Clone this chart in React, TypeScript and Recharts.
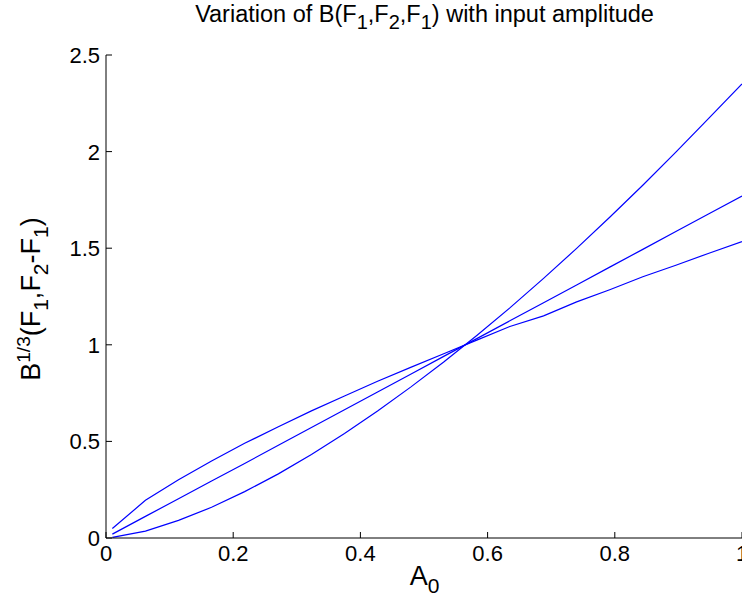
import React from "react";
import { LineChart, Line, XAxis, YAxis, Label } from "recharts";

const A0 = [0.01, 0.062, 0.114, 0.166, 0.218, 0.271, 0.323, 0.375, 0.427, 0.479, 0.531, 0.583, 0.635, 0.688, 0.74, 0.792, 0.844, 0.896, 0.948, 1.0];
const seriesConcave = [0.049, 0.195, 0.301, 0.399, 0.49, 0.576, 0.658, 0.735, 0.811, 0.883, 0.954, 1.024, 1.095, 1.15, 1.222, 1.285, 1.352, 1.412, 1.474, 1.534];
const seriesLinear = [0.02, 0.112, 0.203, 0.295, 0.386, 0.48, 0.572, 0.664, 0.756, 0.848, 0.94, 1.032, 1.124, 1.218, 1.31, 1.402, 1.494, 1.586, 1.678, 1.77];
const seriesConvex = [0.003, 0.036, 0.091, 0.159, 0.24, 0.332, 0.432, 0.541, 0.657, 0.781, 0.911, 1.048, 1.191, 1.344, 1.499, 1.66, 1.826, 1.997, 2.173, 2.35];
const xTicks = [0, 0.2, 0.4, 0.6, 0.8, 1];
const xTickLabels = ["0", "0.2", "0.4", "0.6", "0.8", "1"];
const yTicks = [0, 0.5, 1, 1.5, 2, 2.5];
const yTickLabels = ["0", "0.5", "1", "1.5", "2", "2.5"];

const data = A0.map((a, i) => ({ a, c: seriesConcave[i], l: seriesLinear[i], v: seriesConvex[i] }));

const FONT = "'Liberation Sans', Arial, sans-serif";
const FS = 22;
const TICK = 6;

const BottomTick = (props: any) => {
  const { x, y, payload } = props;
  const idx = xTicks.indexOf(payload.value);
  return (
    <g>
      <line x1={x} y1={y} x2={x} y2={y - TICK} stroke="#000" strokeWidth={1} />
      <text x={x} y={y + 23} textAnchor="middle" fontFamily={FONT} fontSize={FS} fill="#000">
        {idx >= 0 ? xTickLabels[idx] : String(payload.value)}
      </text>
    </g>
  );
};

const TopTick = (props: any) => {
  const { x, y } = props;
  return <line x1={x} y1={y} x2={x} y2={y + TICK} stroke="#000" strokeWidth={1} />;
};

const LeftTick = (props: any) => {
  const { x, y, payload } = props;
  const idx = yTicks.indexOf(payload.value);
  return (
    <g>
      <line x1={x} y1={y} x2={x + TICK} y2={y} stroke="#000" strokeWidth={1} />
      <text x={x - 6} y={y + 8} textAnchor="end" fontFamily={FONT} fontSize={FS} fill="#000">
        {idx >= 0 ? yTickLabels[idx] : String(payload.value)}
      </text>
    </g>
  );
};

const RightTick = (props: any) => {
  const { x, y } = props;
  return <line x1={x} y1={y} x2={x - TICK} y2={y} stroke="#000" strokeWidth={1} />;
};

const LFS = 27;
const LSUB = 21;

const YLabel = () => (
  <text
    x={0}
    y={0}
    transform="translate(40 299) rotate(-90)"
    textAnchor="middle"
    fontFamily={FONT}
    fontSize={LFS}
    fill="#000"
  >
    <tspan>B</tspan>
    <tspan dy={-10} fontSize={19}>1/3</tspan>
    <tspan dy={10}>(F</tspan>
    <tspan dy={8} fontSize={LSUB}>1</tspan>
    <tspan dy={-8}>,F</tspan>
    <tspan dy={8} fontSize={LSUB}>2</tspan>
    <tspan dy={-8}>-F</tspan>
    <tspan dy={8} fontSize={LSUB}>1</tspan>
    <tspan dy={-8}>)</tspan>
  </text>
);

const XLabel = () => (
  <text x={424.5} y={585} textAnchor="middle" fontFamily={FONT} fontSize={LFS} fill="#000">
    <tspan>A</tspan>
    <tspan dy={8} fontSize={LSUB}>0</tspan>
  </text>
);

const subStyle: React.CSSProperties = { fontSize: 20, position: "relative", top: 7 };

export default function App() {
  return (
    <div style={{ position: "fixed", left: 0, top: 0, width: 742, height: 613, background: "#fff" }}>
      <LineChart width={742} height={613} data={data} margin={{ top: 55, right: 0, left: 46, bottom: 35 }}>
        <XAxis
          xAxisId="b"
          dataKey="a"
          type="number"
          domain={[0, 1]}
          ticks={xTicks}
          allowDataOverflow
          height={40}
          tickSize={0}
          tickMargin={0}
          tickLine={false}
          axisLine={{ stroke: "#000", strokeWidth: 1 }}
          tick={<BottomTick />}
          interval={0}
        >
          <Label content={<XLabel />} />
        </XAxis>
        <XAxis
          xAxisId="t"
          orientation="top"
          dataKey="a"
          type="number"
          domain={[0, 1]}
          ticks={xTicks}
          allowDataOverflow
          height={0}
          tickSize={0}
          tickMargin={0}
          tickLine={false}
          axisLine={{ stroke: "#000", strokeWidth: 1 }}
          tick={<TopTick />}
          interval={0}
        />
        <YAxis
          yAxisId="l"
          type="number"
          domain={[0, 2.5]}
          ticks={yTicks}
          allowDataOverflow
          width={60}
          tickSize={0}
          tickMargin={0}
          tickLine={false}
          axisLine={{ stroke: "#000", strokeWidth: 1 }}
          tick={<LeftTick />}
          interval={0}
        >
          <Label content={<YLabel />} />
        </YAxis>
        <YAxis
          yAxisId="r"
          orientation="right"
          type="number"
          domain={[0, 2.5]}
          ticks={yTicks}
          allowDataOverflow
          width={0}
          tickSize={0}
          tickMargin={0}
          tickLine={false}
          axisLine={{ stroke: "#000", strokeWidth: 1 }}
          tick={<RightTick />}
          interval={0}
        />
        <Line xAxisId="b" yAxisId="l" dataKey="c" type="linear" stroke="#0000ff" strokeWidth={1.2} dot={false} isAnimationActive={false} />
        <Line xAxisId="b" yAxisId="l" dataKey="l" type="linear" stroke="#0000ff" strokeWidth={1.2} dot={false} isAnimationActive={false} />
        <Line xAxisId="b" yAxisId="l" dataKey="v" type="linear" stroke="#0000ff" strokeWidth={1.2} dot={false} isAnimationActive={false} />
      </LineChart>
      <div
        style={{
          position: "absolute",
          left: 124.5,
          top: 3,
          width: 600,
          textAlign: "center",
          fontFamily: FONT,
          fontSize: 23.5,
          lineHeight: "23.5px",
          color: "#000",
          whiteSpace: "nowrap",
          zIndex: 10,
        }}
      >
        Variation of B(F<span style={subStyle}>1</span>,F<span style={subStyle}>2</span>,F<span style={subStyle}>1</span>) with input amplitude
      </div>
    </div>
  );
}
